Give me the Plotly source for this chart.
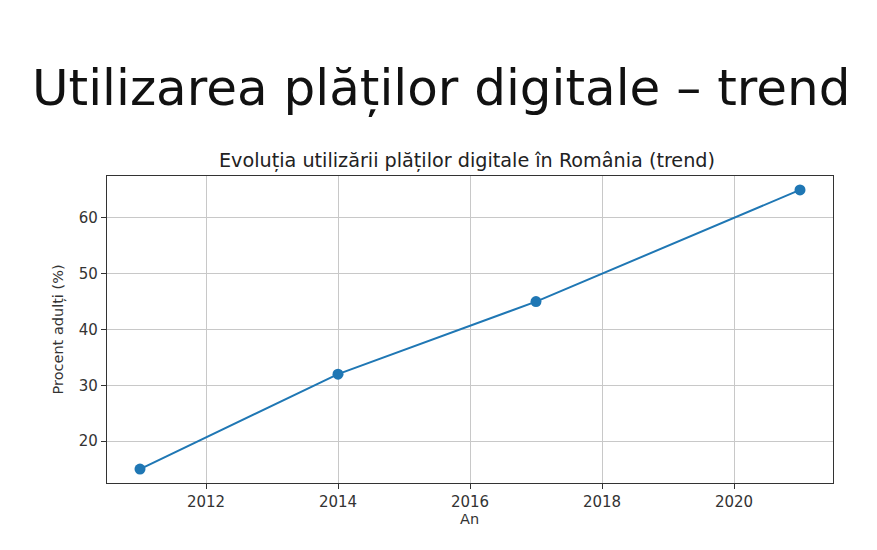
import plotly.graph_objects as go

# data
years = [2011, 2014, 2017, 2021]
percent_adults = [15, 32, 45, 65]

x_ticks = [2012, 2014, 2016, 2018, 2020]
y_ticks = [20, 30, 40, 50, 60]

blue = "#1f77b4"
font_mpl = "DejaVu Sans"
txt = "#333333"

fig = go.Figure()
fig.add_trace(go.Scatter(x=years, y=percent_adults, mode="lines+markers",
                         line=dict(color=blue, width=2),
                         marker=dict(color=blue, size=11)))

# slide heading
fig.add_annotation(text="Utilizarea plăților digitale – trend",
                   xref="paper", yref="paper", x=0.5, y=1.0, xshift=-29, yshift=88,
                   xanchor="center", yanchor="middle", showarrow=False,
                   font=dict(family="DejaVu Sans", size=50, color="#111111"))
# chart title
fig.add_annotation(text="Evoluția utilizării plăților digitale în România (trend)",
                   xref="paper", yref="paper", x=0.5, y=1.0, xshift=-3, yshift=16,
                   xanchor="center", yanchor="middle", showarrow=False,
                   font=dict(family=font_mpl, size=19.2, color="#222222"))
# axis titles
fig.add_annotation(text="Procent adulți (%)", textangle=-90,
                   xref="paper", yref="paper", x=0, y=0.5, xshift=-49,
                   xanchor="center", yanchor="middle", showarrow=False,
                   font=dict(family=font_mpl, size=14.5, color=txt))
fig.add_annotation(text="An",
                   xref="paper", yref="paper", x=0.5, y=0, xshift=-1, yshift=-36,
                   xanchor="center", yanchor="middle", showarrow=False,
                   font=dict(family=font_mpl, size=14.5, color=txt))

axis_common = dict(showline=True, linecolor="#333333", linewidth=1.3, mirror=True,
                   showgrid=True, gridcolor="#c8c8c8", gridwidth=1,
                   ticks="outside", ticklen=5, tickcolor="#333333",
                   zeroline=False, tickfont=dict(family=font_mpl, size=15, color=txt))

fig.update_xaxes(range=[2010.5, 2021.5], tickvals=x_ticks, **axis_common)
fig.update_yaxes(range=[12.5, 67.5], tickvals=y_ticks, **axis_common)

fig.update_layout(width=869, height=542, showlegend=False,
                  paper_bgcolor="white", plot_bgcolor="white",
                  margin=dict(l=99, r=44, t=168, b=67))

fig.write_html("out.html")
